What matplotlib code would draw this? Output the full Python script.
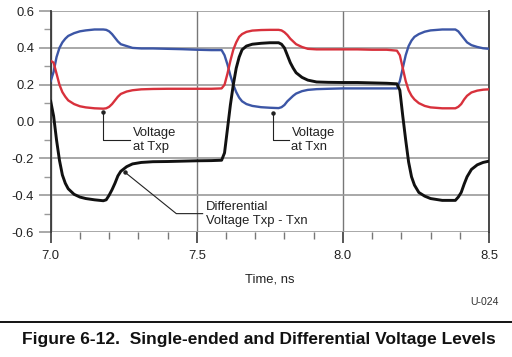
import matplotlib
matplotlib.use("Agg")
import matplotlib.pyplot as plt
from matplotlib.ticker import MultipleLocator, FormatStrFormatter
from matplotlib.lines import Line2D

plt.rcParams['font.family'] = ['Liberation Sans', 'DejaVu Sans']

# time axis, ns
time_ns = [7.00, 7.01, 7.02, 7.03, 7.04, 7.05, 7.06, 7.08, 7.10, 7.12,
           7.15, 7.18, 7.19, 7.20, 7.21, 7.22, 7.23, 7.24, 7.26, 7.28,
           7.31, 7.35, 7.40, 7.45, 7.50, 7.55, 7.585, 7.595, 7.605, 7.615,
           7.625, 7.635, 7.645, 7.655, 7.67, 7.69, 7.72, 7.75, 7.78, 7.79,
           7.80, 7.81, 7.82, 7.83, 7.84, 7.86, 7.88, 7.91, 7.95, 8.00,
           8.05, 8.10, 8.15, 8.185, 8.195, 8.205, 8.215, 8.225, 8.235, 8.245,
           8.26, 8.28, 8.30, 8.34, 8.385, 8.395, 8.405, 8.415, 8.425, 8.44,
           8.46, 8.48, 8.50]

# voltage at Txn (blue)
v_txn = [0.22, 0.27, 0.35, 0.40, 0.43, 0.45, 0.465, 0.48, 0.49, 0.495,
         0.50, 0.50, 0.498, 0.49, 0.475, 0.455, 0.435, 0.42, 0.41, 0.40,
         0.397, 0.397, 0.395, 0.393, 0.39, 0.388, 0.388, 0.36, 0.31, 0.25,
         0.20, 0.16, 0.13, 0.11, 0.095, 0.085, 0.078, 0.075, 0.073, 0.078,
         0.09, 0.11, 0.125, 0.14, 0.152, 0.165, 0.172, 0.176, 0.178, 0.18,
         0.18, 0.18, 0.18, 0.18, 0.22, 0.29, 0.36, 0.41, 0.44, 0.46,
         0.475, 0.488, 0.495, 0.50, 0.50, 0.49, 0.47, 0.45, 0.43, 0.415,
         0.405, 0.398, 0.395]

# voltage at Txp (red)
v_txp = [0.33, 0.32, 0.26, 0.20, 0.16, 0.135, 0.115, 0.095, 0.083, 0.077,
         0.072, 0.07, 0.072, 0.08, 0.095, 0.115, 0.135, 0.15, 0.163, 0.17,
         0.175, 0.177, 0.178, 0.178, 0.178, 0.178, 0.18, 0.20, 0.26, 0.33,
         0.39, 0.43, 0.46, 0.475, 0.487, 0.494, 0.497, 0.498, 0.498, 0.495,
         0.485, 0.47, 0.45, 0.435, 0.42, 0.405, 0.395, 0.392, 0.392, 0.392,
         0.392, 0.39, 0.39, 0.385, 0.36, 0.29, 0.22, 0.17, 0.14, 0.12,
         0.10, 0.085, 0.077, 0.072, 0.072, 0.08, 0.095, 0.12, 0.14, 0.158,
         0.168, 0.173, 0.175]

# differential voltage Txp - Txn (black)
v_diff = [0.11, 0.03, -0.10, -0.21, -0.29, -0.335, -0.365, -0.395, -0.41, -0.418,
          -0.425, -0.43, -0.425, -0.40, -0.37, -0.335, -0.295, -0.27, -0.245, -0.23,
          -0.222, -0.218, -0.217, -0.215, -0.213, -0.212, -0.21, -0.17, -0.04, 0.09,
          0.20, 0.29, 0.35, 0.39, 0.41, 0.42, 0.425, 0.428, 0.428, 0.42,
          0.40, 0.36, 0.32, 0.29, 0.265, 0.24, 0.225, 0.215, 0.213, 0.212,
          0.212, 0.21, 0.208, 0.205, 0.17, 0.03, -0.10, -0.22, -0.30, -0.345,
          -0.385, -0.405, -0.418, -0.428, -0.428, -0.41, -0.385, -0.34, -0.30, -0.26,
          -0.235, -0.222, -0.215]

x_ticks = [7.0, 7.5, 8.0, 8.5]
y_ticks = [-0.6, -0.4, -0.2, 0.0, 0.2, 0.4, 0.6]

title = "Figure 6-12.  Single-ended and Differential Voltage Levels"

fig = plt.figure(figsize=(5.12, 3.57), dpi=100)
ax = fig.add_axes([0.099, 0.350, 0.856, 0.619])

grid_col = '#9a9a9a'
dark = '#3a3a3a'
fs = 9.4

ax.plot(time_ns, v_txn, color='#3c56a6', lw=1.7, zorder=3)
ax.plot(time_ns, v_txp, color='#d8313c', lw=1.7, zorder=3)
ax.plot(time_ns, v_diff, color='#111111', lw=2.1, zorder=4)

ax.set_xlim(7.0, 8.5)
ax.set_ylim(-0.6, 0.6)
ax.set_xticks(x_ticks)
ax.set_yticks(y_ticks)
ax.xaxis.set_minor_locator(MultipleLocator(0.1))
ax.yaxis.set_minor_locator(MultipleLocator(0.1))
ax.xaxis.set_major_formatter(FormatStrFormatter('%.1f'))
ax.yaxis.set_major_formatter(FormatStrFormatter('%.1f'))

for s in ['top', 'bottom']:
    ax.spines[s].set_visible(False)
for s in ['left', 'right']:
    ax.spines[s].set_color(dark)
    ax.spines[s].set_linewidth(1.3)

ax.grid(True, which='major', axis='y', color=grid_col, lw=1.2)
ax.grid(True, which='major', axis='x', color='#777777', lw=1.0)
ax.set_axisbelow(True)

ax.tick_params(axis='y', which='major', direction='out', length=9, width=1.2,
               color=grid_col, pad=3, labelsize=fs, labelcolor='#222222')
ax.tick_params(axis='y', which='minor', direction='out', length=5, width=1.0,
               color=grid_col)
ax.tick_params(axis='x', which='major', direction='out', length=8, width=1.2,
               color=dark, pad=5, labelsize=fs, labelcolor='#222222')
ax.tick_params(axis='x', which='minor', direction='out', length=5, width=1.0,
               color='#777777')

ax.set_xlabel("Time, ns", fontsize=fs, color='#222222', labelpad=8)

# leader lines and labels
lead = dict(color='#222222', lw=0.8, zorder=5)
dot = dict(color='#222222', marker='o', ms=2.2, zorder=5)

ax.plot([7.18, 7.18, 7.27], [0.05, -0.10, -0.10], **lead)
ax.plot([7.18], [0.05], **dot)
ax.text(7.283, -0.10, "Voltage\nat Txp", fontsize=fs, va='center', ha='left',
        color='#222222', linespacing=1.2)

ax.plot([7.76, 7.76, 7.815], [0.045, -0.10, -0.10], **lead)
ax.plot([7.76], [0.045], **dot)
ax.text(7.824, -0.10, "Voltage\nat Txn", fontsize=fs, va='center', ha='left',
        color='#222222', linespacing=1.2)

ax.plot([7.254, 7.43, 7.52], [-0.275, -0.50, -0.50], **lead)
ax.plot([7.254], [-0.275], **dot)
ax.text(7.53, -0.50, "Differential\nVoltage Txp - Txn", fontsize=fs, va='center',
        ha='left', color='#222222', linespacing=1.2)

fig.text(0.947, 0.154, "U-024", fontsize=7.6, ha='center', va='center', color='#333333')
fig.add_artist(Line2D([0.0, 1.0], [0.098, 0.098], color='black', lw=1.3,
                      transform=fig.transFigure))
fig.text(0.506, 0.048, title, fontsize=12.5, fontweight='bold', ha='center',
         va='center', color='#111111')

fig.savefig("out.png", dpi=100)
